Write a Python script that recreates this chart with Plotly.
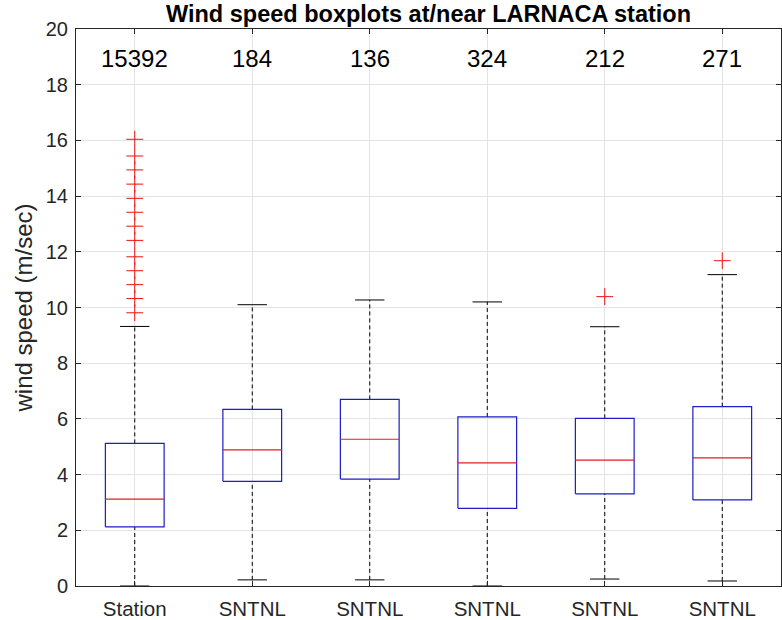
import plotly.graph_objects as go

# Wind speed summary statistics per data source (m/sec)
labels = ["Station", "SNTNL", "SNTNL", "SNTNL", "SNTNL", "SNTNL"]
counts = [15392, 184, 136, 324, 212, 271]
q1 = [2.12, 3.76, 3.84, 2.79, 3.31, 3.09]
median = [3.12, 4.89, 5.27, 4.42, 4.52, 4.60]
q3 = [5.12, 6.34, 6.70, 6.07, 6.02, 6.44]
whisker_low = [0.0, 0.22, 0.22, 0.0, 0.25, 0.18]
whisker_high = [9.32, 10.10, 10.27, 10.20, 9.31, 11.18]
outliers = [
    [9.81, 10.32, 10.82, 11.32, 11.82, 12.41, 12.92, 13.42, 13.92, 14.43, 14.94, 15.44, 16.04],
    [],
    [],
    [],
    [10.39],
    [11.68],
]

positions = list(range(1, len(labels) + 1))
BOX_HALF = 0.25
CAP_HALF = 0.125

FONT = "Liberation Sans, Arial, Helvetica, sans-serif"
AXIS_COLOR = "#262626"
BOX_COLOR = "#1c1cc8"
MED_COLOR = "#e01e1e"

bx, by, mx, my, wx, wy, cx, cy, ox, oy = ([] for _ in range(10))
for p, a, m, b, lo, hi, outs in zip(positions, q1, median, q3, whisker_low, whisker_high, outliers):
    # box outline
    bx += [p - BOX_HALF, p + BOX_HALF, p + BOX_HALF, p - BOX_HALF, p - BOX_HALF, None]
    by += [a, a, b, b, a, None]
    # median line
    mx += [p - BOX_HALF, p + BOX_HALF, None]
    my += [m, m, None]
    # dashed whiskers
    wx += [p, p, None, p, p, None]
    wy += [b, hi, None, lo, a, None]
    # whisker caps
    cx += [p - CAP_HALF, p + CAP_HALF, None, p - CAP_HALF, p + CAP_HALF, None]
    cy += [hi, hi, None, lo, lo, None]
    ox += [p] * len(outs)
    oy += outs

fig = go.Figure()
fig.add_trace(go.Scatter(x=wx, y=wy, mode="lines",
                         line=dict(color="black", width=1, dash="4px,3px"),
                         hoverinfo="skip", showlegend=False))
fig.add_trace(go.Scatter(x=cx, y=cy, mode="lines",
                         line=dict(color="black", width=1),
                         hoverinfo="skip", showlegend=False))
fig.add_trace(go.Scatter(x=bx, y=by, mode="lines",
                         line=dict(color=BOX_COLOR, width=1.2),
                         hoverinfo="skip", showlegend=False))
fig.add_trace(go.Scatter(x=mx, y=my, mode="lines",
                         line=dict(color=MED_COLOR, width=1.2),
                         hoverinfo="skip", showlegend=False))
fig.add_trace(go.Scatter(x=ox, y=oy, mode="markers",
                         marker=dict(symbol="cross-thin", size=12,
                                     line=dict(color="#f01010", width=1)),
                         showlegend=False))

# sample counts above each box
for p, n in zip(positions, counts):
    fig.add_annotation(x=p, y=18.95, text=str(n), showarrow=False,
                       font=dict(family=FONT, size=24, color="black"),
                       xanchor="center", yanchor="middle")

fig.update_layout(
    width=782, height=620,
    margin=dict(l=76, r=1, t=29, b=34),
    paper_bgcolor="white", plot_bgcolor="white",
    font=dict(family=FONT, color=AXIS_COLOR),
    title=dict(text="<b>Wind speed boxplots at/near LARNACA station</b>",
               font=dict(family=FONT, size=23.5, color="black"),
               x=0.548, xanchor="center", xref="container",
               y=1 - 14 / 620, yanchor="middle", yref="container"),
    xaxis=dict(range=[0.5, len(labels) + 0.5], tickvals=positions, ticktext=labels,
               showgrid=True, gridcolor="#e3e3e3", gridwidth=1,
               showline=True, linecolor=AXIS_COLOR, linewidth=1, mirror="ticks",
               ticks="inside", ticklen=5, tickcolor=AXIS_COLOR,
               ticklabelstandoff=4,
               tickfont=dict(family=FONT, size=20.5, color=AXIS_COLOR),
               zeroline=False, fixedrange=True),
    yaxis=dict(range=[0, 20], dtick=2, tick0=0,
               showgrid=True, gridcolor="#e3e3e3", gridwidth=1,
               showline=True, linecolor=AXIS_COLOR, linewidth=1, mirror="ticks",
               ticks="inside", ticklen=5, tickcolor=AXIS_COLOR,
               ticklabelstandoff=3,
               tickfont=dict(family=FONT, size=20, color=AXIS_COLOR),
               title=dict(text="wind speed (m/sec)", standoff=6,
                          font=dict(family=FONT, size=24, color=AXIS_COLOR)),
               zeroline=False, fixedrange=True),
)

fig.write_html("out.html")
